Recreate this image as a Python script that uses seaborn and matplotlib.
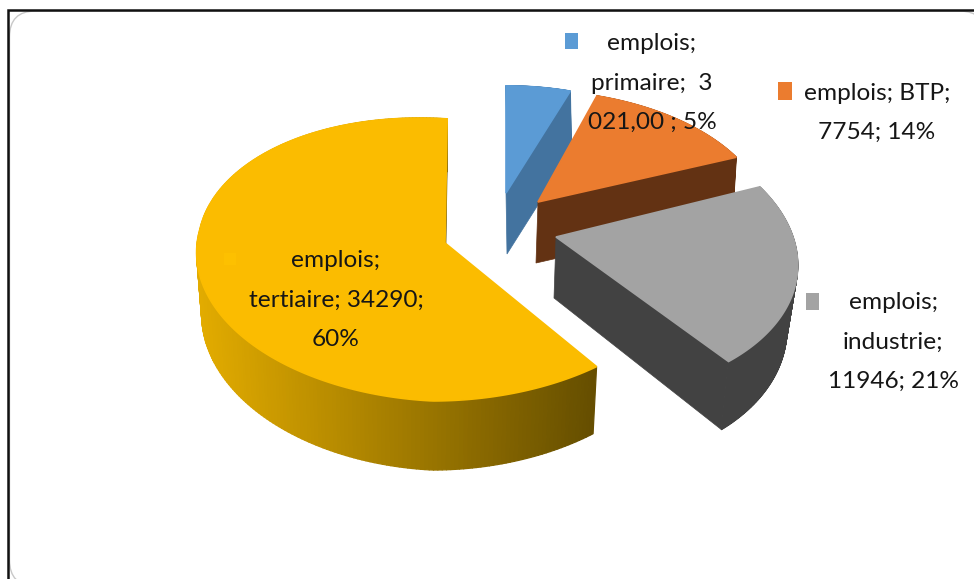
import numpy as np
import matplotlib
matplotlib.use("Agg")
import matplotlib.pyplot as plt
from matplotlib.collections import PolyCollection
from matplotlib.colors import to_rgb
from matplotlib.patches import FancyBboxPatch, Polygon, Rectangle
import seaborn as sns

# Employment by sector
sectors = ["tertiaire", "industrie", "BTP", "primaire"]
emplois = [34290, 11946, 7754, 3021]
labels = ["emplois;\ntertiaire; 34290;\n60%",
          "emplois;\nindustrie;\n11946; 21%",
          "emplois; BTP;\n7754; 14%",
          "emplois;\nprimaire;  3\n021,00 ; 5%"]

sns.set_theme(style="white")
plt.rcParams["font.family"] = ["Lato", "DejaVu Sans"]

top_colors = sns.color_palette(["#FBBC00", "#A3A3A3", "#EB7C2F", "#5B9BD5"])
wall_ramps = {"tertiaire": ("#E3AC00", "#654E00"),
              "industrie": ("#424242", "#424242"),
              "BTP": ("#633213", "#633213"),
              "primaire": ("#43739F", "#43739F")}

# Screen-space perspective of each exploded slice:
# apex x, apex y, radius x, radius y, skew back, skew front, lift of the left side
top_face = {"tertiaire": (445, 243, 245, 139, 0.01, 0.045, 14),
            "industrie": (556, 237, 237, 140, -0.078, -0.078, 0),
            "BTP": (538, 202, 227, 125, -0.04, -0.04, 0),
            "primaire": (506, 193, 219, 120, 0.0, 0.0, 0)}
base_face = {"tertiaire": (445, 303, 240, 147, 0.01, 0.047, 14),
             "industrie": (554, 298, 228, 148, -0.085, -0.085, 0),
             "BTP": (536, 263, 225, 125, -0.04, -0.04, 0),
             "primaire": (507, 254, 219, 120, 0.0, 0.0, 0)}
PERSPECTIVE = 0.12

label_pos = {"tertiaire": (336, 300), "industrie": (893, 342),
             "BTP": (877, 113), "primaire": (652, 83)}
key_boxes = {"tertiaire": (224, 253, 12, 12), "industrie": (806, 293, 13, 17),
             "BTP": (778, 82, 14, 18), "primaire": (565, 33, 13, 16)}


def project(theta, face):
    ax_, ay, rx, sy, s_back, s_front, lift = face
    x, y = np.cos(theta), np.sin(theta)
    s = np.where(y >= 0, s_back, s_front)
    den = 1 + PERSPECTIVE * y
    return ax_ + rx * (x + s * y) / den, ay - sy * y / den + lift * np.minimum(x, 0)


def ramp(t, left, right):
    t = np.clip(t, 0, 1)[:, None]
    return (1 - t) * np.array(to_rgb(left)) + t * np.array(to_rgb(right))


fig = plt.figure(figsize=(9.74, 5.79), dpi=100, facecolor="white")
ax = fig.add_axes([0, 0, 1, 1])
ax.set_xlim(0, 974)
ax.set_ylim(579, 0)
ax.axis("off")

# Chart frame; its rounded outline runs past the right and bottom of the canvas
ax.add_patch(FancyBboxPatch((9.5, 11), 976, 575, boxstyle="round,pad=0,rounding_size=26",
                            fc="white", ec="#C8C8C8", lw=1.0, zorder=1))
ax.plot([7.5, 7.5, 974], [579, 9.5, 9.5], color="#111111", lw=1.8, zorder=2,
        solid_joinstyle="miter")

# Slices run counter-clockwise from the top, each sweep taken from its share
shares = np.array(emplois) / np.sum(emplois)
starts = np.pi / 2 + 2 * np.pi * np.concatenate([[0], np.cumsum(shares)[:-1]])
sweeps = 2 * np.pi * shares

z = 3
for i in [3, 2, 1, 0]:
    name = sectors[i]
    theta = np.linspace(starts[i], starts[i] + sweeps[i], 240)
    tx, ty = project(theta, top_face[name])
    bx, by = project(theta, base_face[name])
    ta_x, ta_y = top_face[name][:2]
    ba_x, ba_y = base_face[name][:2]

    # Outer wall as thin quads so the shading can follow the horizontal position
    quads = [[(tx[j], ty[j]), (tx[j + 1], ty[j + 1]), (bx[j + 1], by[j + 1]), (bx[j], by[j])]
             for j in range(len(theta) - 1)]
    left, right = wall_ramps[name]
    span = (tx.min(), tx.max())
    shade = ramp((0.5 * (tx[:-1] + tx[1:]) - span[0]) / (span[1] - span[0]), left, right)
    ax.add_collection(PolyCollection(quads, facecolors=shade, edgecolors=shade, lw=0.9, zorder=z))

    # Radial wall at the leading cut edge, the one that faces the viewer
    ax.add_patch(Polygon([(ta_x, ta_y), (tx[0], ty[0]), (bx[0], by[0]), (ba_x, ba_y)],
                         closed=True, fc=right, ec=right, lw=0.5, zorder=z))

    # Upper face, its edge wide enough to cover the wall's rim
    ax.add_patch(Polygon(np.column_stack([np.r_[ta_x, tx], np.r_[ta_y, ty]]), closed=True,
                         fc=top_colors[i], ec=top_colors[i], lw=1.2, zorder=z + 1))
    z += 2

# Data labels with their colour keys
for i, name in enumerate(sectors):
    kx, ky, kw, kh = key_boxes[name]
    ax.add_patch(Rectangle((kx, ky), kw, kh, fc=top_colors[i] if name != "tertiaire" else "#FDC000",
                           ec="none", zorder=20))
    x, y = label_pos[name]
    ax.text(x, y, labels[i], ha="center", va="center", fontsize=17.6, color="#161616",
            linespacing=2.08, zorder=21)

fig.savefig("out.png", dpi=100)
